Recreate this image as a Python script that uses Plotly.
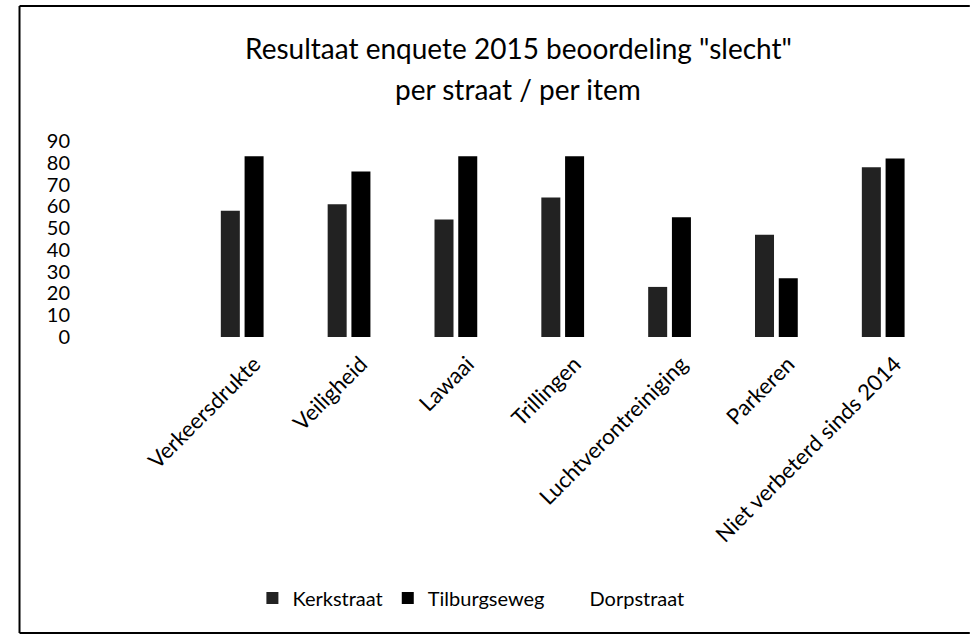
import plotly.graph_objects as go

# ---- data ----
categories = ["Verkeersdrukte", "Veiligheid", "Lawaai", "Trillingen",
              "Luchtverontreiniging", "Parkeren", "Niet verbeterd sinds 2014"]
kerkstraat = [58, 61, 54, 64, 23, 47, 78]
tilburgseweg = [83, 76, 83, 83, 55, 27, 82]
dorpstraat = [None, None, None, None, None, None, None]
y_ticks = [0, 10, 20, 30, 40, 50, 60, 70, 80, 90]

title_line1 = 'Resultaat enquete 2015 beoordeling "slecht"'
title_line2 = "per straat / per item"

# ---- layout geometry (pixels) ----
W, H = 970, 635
ML, MR = 61, 20
PLOT_TOP, PLOT_BOTTOM = 141, 337
MT, MB = PLOT_TOP, H - PLOT_BOTTOM
PW = W - ML - MR
PH = PLOT_BOTTOM - PLOT_TOP


def px_x(x):
    return (x - ML) / PW


def px_y(y):
    return (PLOT_BOTTOM - y) / PH


FONT = "Lato"

fig = go.Figure()
fig.add_trace(go.Bar(name="Kerkstraat", x=categories, y=kerkstraat,
                     marker=dict(color="#222222", line=dict(width=0))))
fig.add_trace(go.Bar(name="Tilburgseweg", x=categories, y=tilburgseweg,
                     marker=dict(color="#000000", line=dict(width=0))))
fig.add_trace(go.Bar(name="Dorpstraat", x=categories, y=dorpstraat,
                     marker=dict(color="#ffffff", line=dict(width=0))))

frame = dict(color="black", width=2)
fig.update_layout(
    width=W, height=H,
    margin=dict(l=ML, r=MR, t=MT, b=MB, pad=0),
    paper_bgcolor="white", plot_bgcolor="white",
    barmode="group", bargap=0.333, bargroupgap=0.2,
    font=dict(family=FONT, color="black"),
    showlegend=True,
    legend=dict(orientation="h", x=px_x(466), xanchor="center",
                y=px_y(598), yanchor="middle",
                font=dict(family=FONT, size=20, color="black"),
                bgcolor="rgba(0,0,0,0)"),
    xaxis=dict(domain=[px_x(193), px_x(948.5)], showgrid=False, zeroline=False,
               showline=False, ticks="", tickangle=-45,
               tickfont=dict(family=FONT, size=22, color="black"),
               ticklabelstandoff=9),
    yaxis=dict(range=[0, 90], tickvals=y_ticks, showgrid=False, zeroline=False,
               showline=False, ticks="", anchor="free", position=0,
               tickfont=dict(family=FONT, size=20, color="black")),
    annotations=[
        dict(text=title_line1, x=px_x(514), y=px_y(48), xref="paper", yref="paper",
             showarrow=False, xanchor="center", yanchor="middle",
             font=dict(family=FONT, size=28, color="black")),
        dict(text=title_line2, x=px_x(514), y=px_y(89), xref="paper", yref="paper",
             showarrow=False, xanchor="center", yanchor="middle",
             font=dict(family=FONT, size=28, color="black")),
    ],
    shapes=[
        dict(type="line", xref="paper", yref="paper",
             x0=px_x(10), x1=px_x(10), y0=px_y(633), y1=px_y(6), line=frame),
        dict(type="line", xref="paper", yref="paper",
             x0=px_x(10), x1=px_x(970), y0=px_y(6), y1=px_y(6), line=frame),
        dict(type="line", xref="paper", yref="paper",
             x0=px_x(10), x1=px_x(970), y0=px_y(633), y1=px_y(633), line=frame),
    ],
)

fig.write_html(
    "out.html",
    config={"displayModeBar": False},
    post_script="document.body.style.margin='0';document.body.style.overflow='hidden';",
)
